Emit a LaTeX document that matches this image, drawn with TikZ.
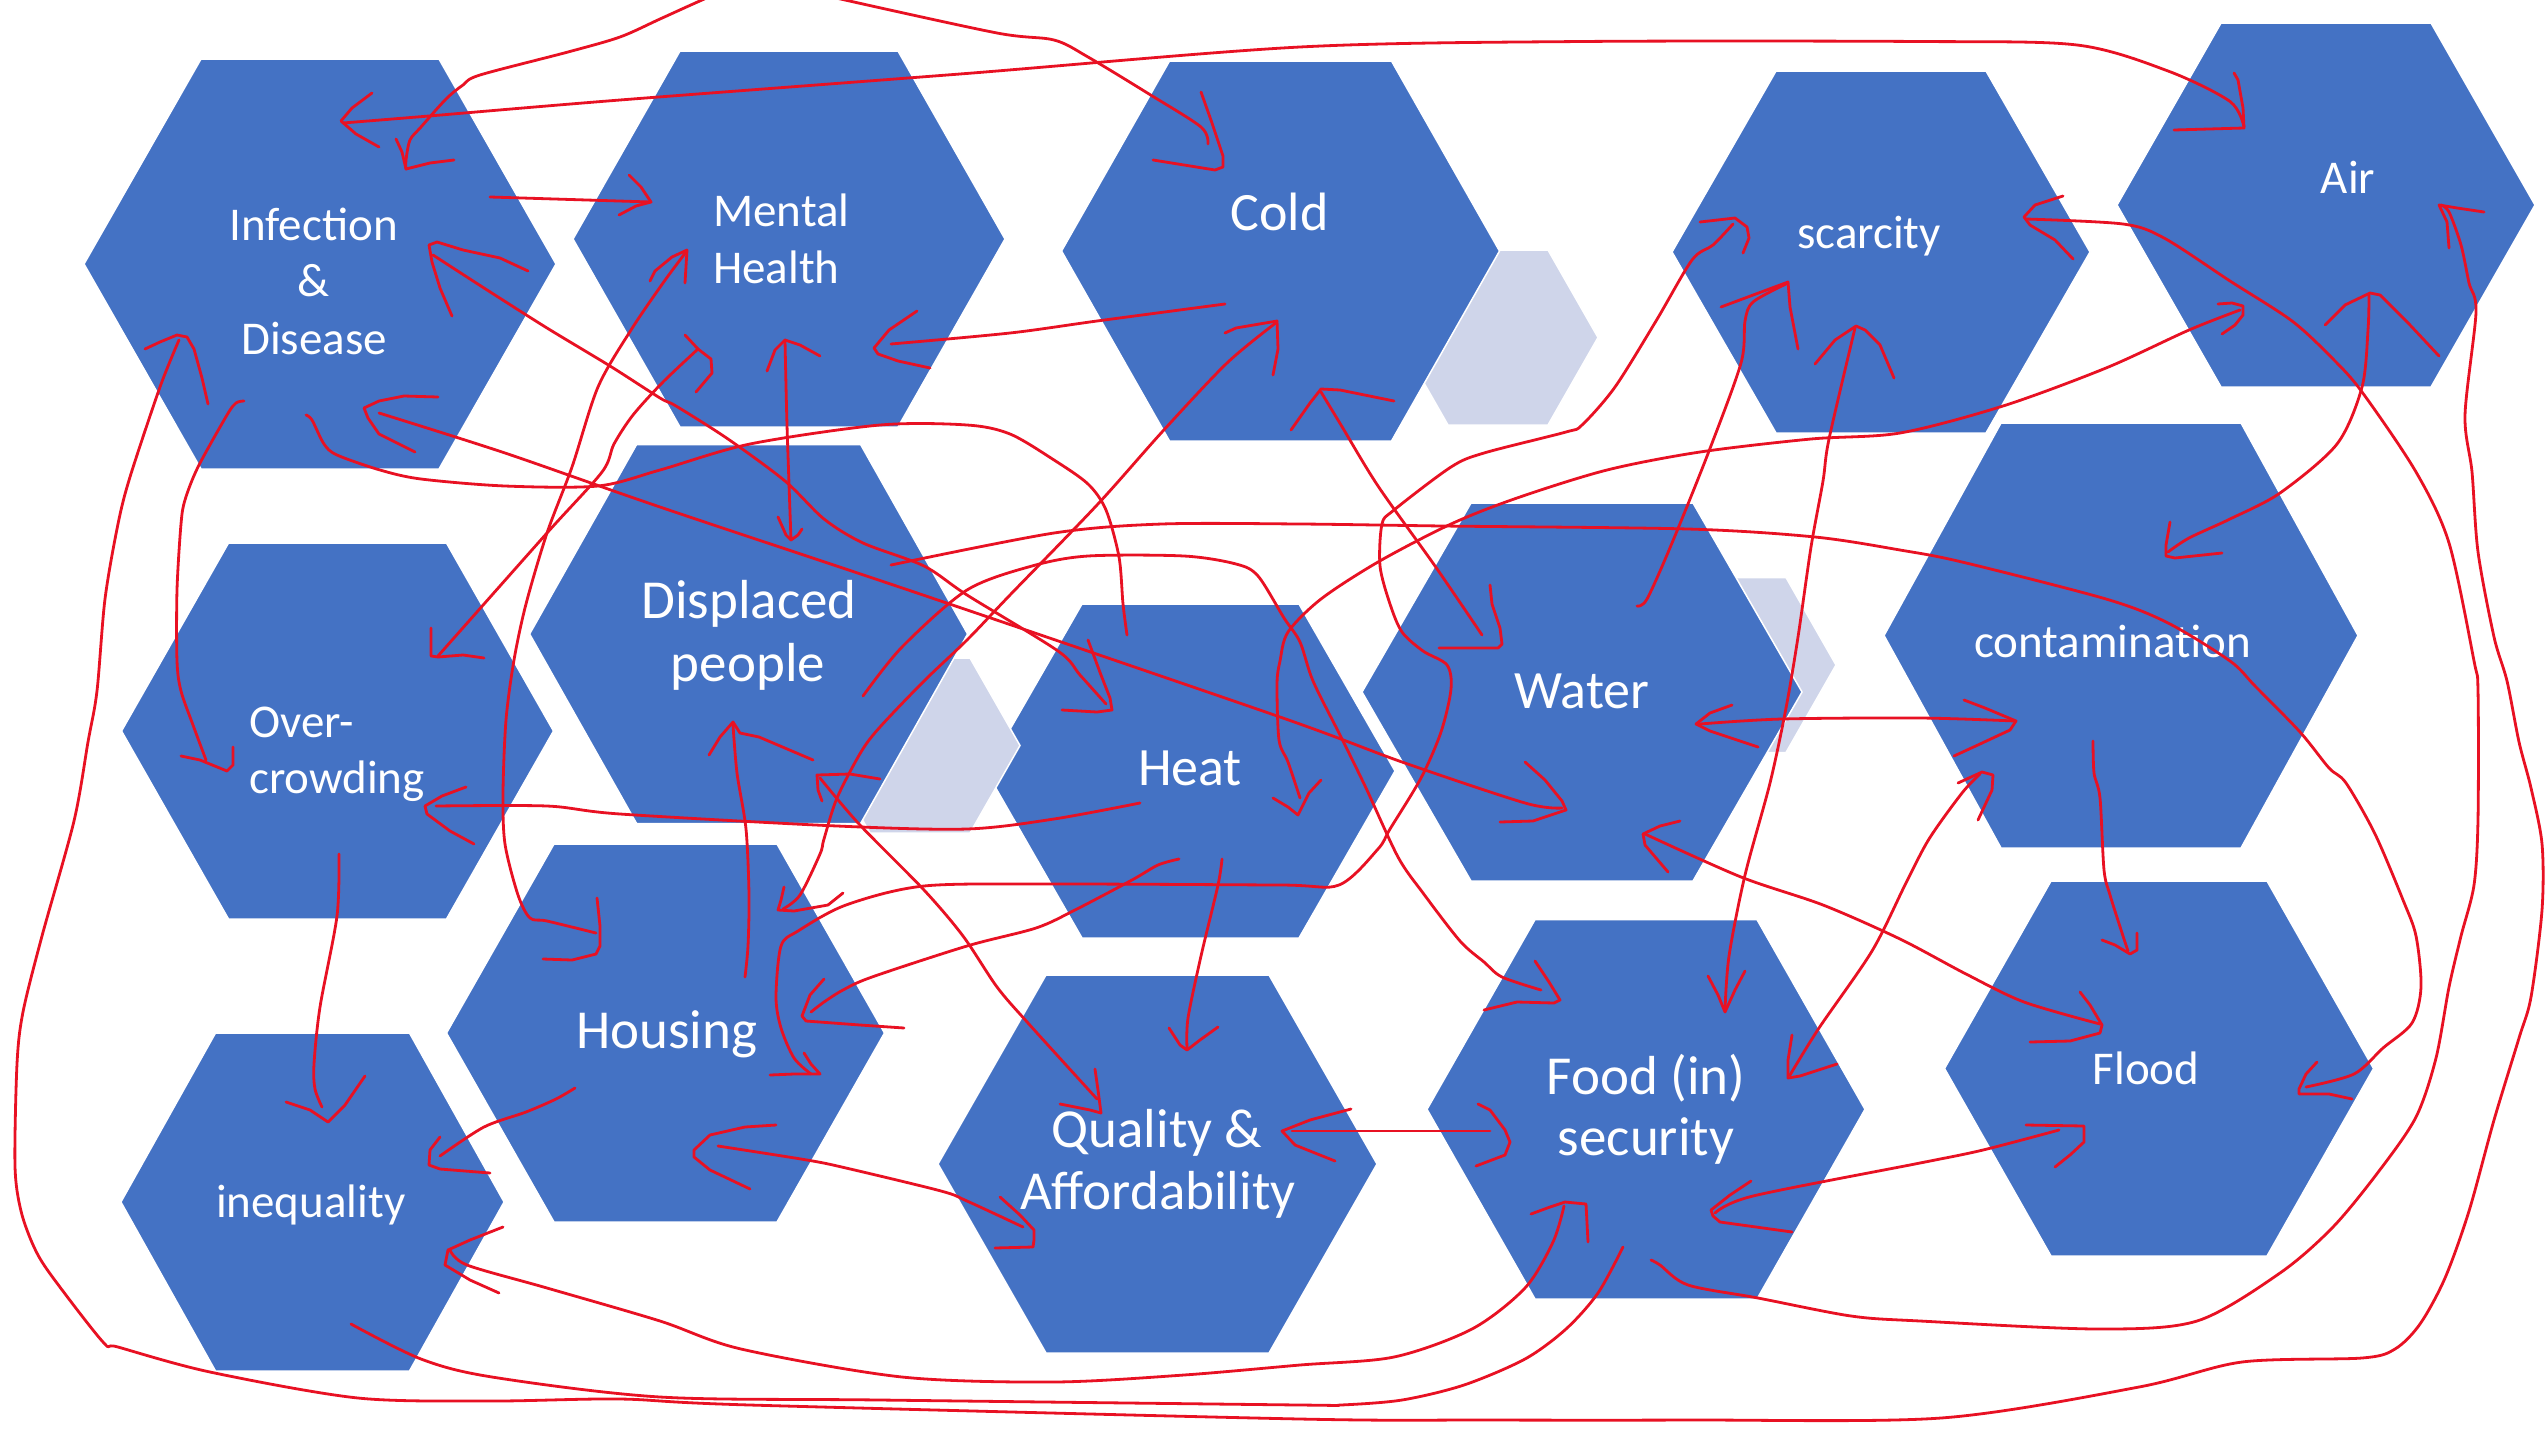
\documentclass[tikz,border=0pt]{standalone}
\usepackage{fontspec}
\setmainfont{Carlito}
\definecolor{hexblue}{RGB}{68,114,196}
\definecolor{hexgray}{RGB}{207,213,234}
\definecolor{inkred}{RGB}{232,17,35}
\newcommand{\labsm}{\fontsize{47}{56}\selectfont}
\newcommand{\labmd}{\fontsize{54}{64}\selectfont}
\newcommand{\lablg}{\fontsize{55}{66}\selectfont}
% hexagon with flat top: #1 style, #2 cx, #3 cy, #4 half width, #5 half top edge, #6 half height
\newcommand{\hexshape}[6]{%
  \filldraw[#1] ({#2-#4},#3) -- ({#2-#5},{#3-#6}) -- ({#2+#5},{#3-#6}) -- ({#2+#4},#3)
    -- ({#2+#5},{#3+#6}) -- ({#2-#5},{#3+#6}) -- cycle;}
\tikzset{
  ink/.style={draw=inkred, line width=2.8, line cap=round, line join=round},
  hexcell/.style={fill=hexblue, draw=white, line width=1.5},
  hexghost/.style={fill=hexgray, draw=white, line width=1.5},
  lbl/.style={text=white, inner sep=0pt, anchor=base},
  lblw/.style={text=white, inner sep=0pt, anchor=base west},
}
\begin{document}
\begin{tikzpicture}[x=1pt,y=-1pt]
\clip (0,0) rectangle (2547,1440);
\fill[white] (0,0) rectangle (2547,1440);

% ---- hexagons ----
\hexshape{hexcell}{320}{264}{236}{119}{205}
\hexshape{hexcell}{789}{239}{216}{109}{188}
\hexshape{hexghost}{1498}{337.5}{100}{50}{87.5}
\hexshape{hexcell}{1280.5}{251}{219}{111}{190}
\hexshape{hexcell}{1881}{252}{209}{105}{181}
\hexshape{hexcell}{2326}{205}{209}{105}{182}
\hexshape{hexcell}{2121}{635.5}{237}{120}{212.5}
\hexshape{hexcell}{337.5}{731}{216}{109}{188}
\hexshape{hexcell}{1190.5}{771}{204.5}{108.5}{167}
\hexshape{hexghost}{920}{745.5}{100}{50}{87.5}
\hexshape{hexcell}{748.6}{634}{219}{112}{189.5}
\hexshape{hexghost}{1736}{665}{100}{50}{87.5}
\hexshape{hexcell}{1582}{692}{220}{111}{189}
\hexshape{hexcell}{665.5}{1033}{219}{111.5}{189}
\hexshape{hexcell}{1157.5}{1164}{219.5}{111.5}{189}
\hexshape{hexcell}{1646}{1109.3}{219}{111}{189.7}
\hexshape{hexcell}{2159}{1068.5}{214.5}{108}{187.5}
\hexshape{hexcell}{312.5}{1202}{191.6}{97}{169}

% ---- labels ----
\node[lbl, font=\labsm] (infA) at (313.5,240.7) {Infection};
\node[lbl, font=\labsm] (infB) at (313.5,296) {\&};
\node[lbl, font=\labsm] (infC) at (314,354) {Disease};
\node[lblw, font=\labsm] (menA) at (713,226.5) {Mental};
\node[lblw, font=\labsm] (menB) at (713,283) {Health};
\node[lbl, font=\labmd] (cold) at (1279.7,230) {Cold};
\node[lbl, font=\labsm] (scar) at (1869,248) {scarcity};
\node[lbl, font=\labsm] (air) at (2348,193.5) {Air};
\node[lbl, font=\labsm] (cont) at (2112.5,657) {contamination};
\node[lblw, font=\labsm] (ovA) at (249,737) {Over-};
\node[lblw, font=\labsm] (ovB) at (249,793) {crowding};
\node[lbl, font=\lablg] (disA) at (749,618) {Displaced};
\node[lbl, font=\lablg] (disB) at (748,681) {people};
\node[lbl, font=\labmd] (heat) at (1190,785.4) {Heat};
\node[lbl, font=\labmd] (water) at (1582,708) {Water};
\node[lbl, font=\lablg] (hous) at (666.6,1048) {Housing};
\node[lbl, font=\lablg] (quaA) at (1157,1147.6) {Quality \&};
\node[lbl, font=\lablg] (quaB) at (1157.8,1209) {Affordability};
\node[lbl, font=\lablg] (foodA) at (1646,1094) {Food (in)};
\node[lbl, font=\lablg] (foodB) at (1646,1155) {security};
\node[lbl, font=\labsm] (flood) at (2146,1084) {Flood};
\node[lbl, font=\labsm] (ineq) at (310.8,1217.5) {inequality};

% ---- hand-drawn links ----
% Infection <-> Air, across the top
\draw[ink] plot[smooth] coordinates {(343,123) (429,116) (620,100) (960,74) (1300,47) (1582,41.5) (1920,41.5) (2077,45) (2168,71) (2230,101.5) (2244,127)};
\draw[ink] (372,93) -- (352,108) -- (341,121) -- (356,134) -- (379,147);
\draw[ink] (2234,73) -- (2238,80) -- (2243,108) -- (2244,128) -- (2174,130);
% from above into Infection
\draw[ink] plot[smooth] coordinates {(760,-25) (702,0) (660,19) (620,37) (568,52) (480,75) (463,85) (446,99) (421,127) (410,140) (406,160) (406,169)};
\draw[ink] (396,139) -- (402,152) -- (406,169) -- (430,163) -- (454,160);
% from above into Cold
\draw[ink] plot[smooth] coordinates {(760,-20) (845,0) (997,33) (1054,40) (1088,57) (1149,94) (1201,127) (1208,144)};
\draw[ink] (1201,92) -- (1212,123) -- (1223,156) -- (1223,167) -- (1215,170) -- (1153,160);
% Infection -> Mental Health
\draw[ink] (490,197) -- (651,202);
\draw[ink] (629,175) -- (641,187) -- (651,202) -- (636,206) -- (619,215);
% Infection <-> Heat
\draw[ink] plot[smooth] coordinates {(433,255) (484,288) (547,328) (610,366) (660,398) (676,406) (728,439) (785,481) (824,519) (863,543) (924,566) (967,595) (1058,651) (1080,675) (1106,704)};
\draw[ink] (528,271) -- (500,258) -- (463,250) -- (437,242) -- (429,245) -- (432,262) -- (440,288) -- (452,316);
\draw[ink] (1088,640) -- (1101,675) -- (1110,698) -- (1112,710) -- (1097,712) -- (1062,710);
% Infection <-> Water
\draw[ink] plot[smooth] coordinates {(379,413) (505,453) (660,507) (923,595) (1280,717) (1402,762) (1525,803) (1562,808)};
\draw[ink] (438,397) -- (404,396) -- (379,401) -- (364,408) -- (368,418) -- (379,434) -- (415,452);
\draw[ink] (1525,762) -- (1545,780) -- (1562,801) -- (1566,810) -- (1533,821) -- (1500,822);
% Infection to Heat, open ends
\draw[ink] plot[smooth] coordinates {(306,415) (312,420) (324,444) (337,455) (380,470) (421,479) (505,486) (598,486) (660,470) (750,444) (880,425) (967,425) (1010,434) (1054,460) (1088,484) (1106,510) (1119,557) (1123,604) (1127,635)};
% Infection -> Over-crowding
\draw[ink] plot[smooth] coordinates {(244,401) (236,403) (227,415) (198,467) (185,500) (181,524) (177,590) (177,661) (181,691) (193,725) (206,760)};
\draw[ink] (181,756) -- (200,760) -- (227,771) -- (233,765) -- (233,747);
% Infection <-> Air, round the outside
\draw[ink] plot[smooth] coordinates {(179,340) (160,387) (130,477) (118,524) (105,599) (97,691) (88,742) (74,821) (42,936) (23,1012) (17,1064) (15,1166) (21,1211) (34,1247) (51,1275) (103,1342) (118,1347) (210,1372) (358,1398) (492,1401) (620,1399) (750,1405) (1300,1419) (1484,1420) (1688,1420) (1941,1418) (2139,1387) (2242,1362) (2362,1358) (2395,1349) (2420,1324) (2445,1278) (2469,1211) (2494,1120) (2519,1038) (2531,997) (2542,910) (2542,844) (2531,788) (2519,742) (2507,681) (2494,637) (2478,552) (2472,472) (2465,415) (2476,312) (2469,283) (2461,245) (2449,212) (2441,205)};
\draw[ink] (145,349) -- (160,342) -- (177,335) -- (187,337) -- (194,349) -- (202,378) -- (208,404);
\draw[ink] (2449,248) -- (2447,222) -- (2439,205) -- (2457,208) -- (2484,212);
% Mental Health <-> Over-crowding
\draw[ink] plot[smooth] coordinates {(698,349) (663,382) (633,415) (614,444) (602,472) (547,533) (438,656)};
\draw[ink] (685,335) -- (698,349) -- (711,359) -- (712,373) -- (696,392);
\draw[ink] (431,628) -- (431,656) -- (438,657) -- (463,655) -- (484,658);
% Mental Health <-> Housing
\draw[ink] plot[smooth] coordinates {(686,252) (663,283) (631,330) (598,387) (572,467) (547,533) (526,604) (514,660) (506,720) (503,793) (505,844) (518,895) (530,918) (547,921) (596,933)};
\draw[ink] (650,281) -- (655,271) -- (672,257) -- (687,250) -- (685,283);
\draw[ink] (597,898) -- (600,926) -- (600,946) -- (596,954) -- (572,960) -- (543,959);
% Mental Health <-> Displaced people
\draw[ink] plot[smooth] coordinates {(785,340) (787,425) (791,540)};
\draw[ink] (767,371) -- (775,350) -- (785,340) -- (800,345) -- (820,356);
\draw[ink] (778,517) -- (786,535) -- (791,540) -- (798,535) -- (802,529);
% Cold -> Mental Health
\draw[ink] plot[smooth] coordinates {(1225,304) (1097,321) (1010,333) (891,344)};
\draw[ink] (917,311) -- (889,330) -- (874,348) -- (878,354) -- (898,361) -- (930,368);
% Cold <-> Housing
\draw[ink] plot[smooth] coordinates {(1277,322) (1227,363) (1162,432) (1097,505) (1010,595) (967,640) (924,681) (880,727) (861,752) (837,798) (824,839) (820,854) (800,895) (783,909)};
\draw[ink] (1225,333) -- (1236,328) -- (1277,321) -- (1278,349) -- (1273,375);
\draw[ink] (784,887) -- (781,900) -- (778,910) -- (794,911) -- (828,905) -- (843,893);
% Heat -> Over-crowding
\draw[ink] plot[smooth] coordinates {(1140,803) (1054,819) (967,829) (837,826) (620,814) (547,806) (436,806)};
\draw[ink] (466,787) -- (442,796) -- (425,806) -- (427,814) -- (450,831) -- (474,844);
% Heat -> Quality
\draw[ink] plot[smooth] coordinates {(1222,859) (1218,885) (1201,956) (1188,1018) (1187,1048)};
\draw[ink] (1169,1028) -- (1180,1045) -- (1187,1050) -- (1200,1040) -- (1218,1027);
% Heat -> Housing
\draw[ink] plot[smooth] coordinates {(1179,859) (1158,865) (1132,880) (1075,910) (1036,928) (967,946) (872,977) (843,990) (824,1002) (811,1012)};
\draw[ink] (824,979) -- (810,995) -- (802,1016) -- (806,1021) -- (860,1025) -- (904,1028);
% scarcity <-> Housing
\draw[ink] plot[smooth] coordinates {(1733,224) (1713,245) (1692,260) (1656,321) (1615,387) (1582,425) (1566,432) (1484,453) (1451,467) (1394,510) (1382,524) (1380,566) (1390,604) (1402,632) (1423,651) (1447,665) (1451,689) (1441,732) (1421,778) (1390,829) (1378,849) (1339,885) (1280,885) (1054,884) (924,886) (846,905) (798,931) (781,946) (776,997) (781,1028) (794,1058) (811,1074)};
\draw[ink] (1700,222) -- (1735,218) -- (1747,227) -- (1749,238) -- (1743,253);
\draw[ink] (804,1053) -- (811,1064) -- (820,1074) -- (794,1074) -- (770,1075);
% Displaced people -> Food
\draw[ink] plot[smooth] coordinates {(863,696) (902,647) (967,590) (1032,566) (1088,556) (1184,556) (1236,564) (1258,576) (1284,618) (1300,642) (1313,681) (1341,737) (1366,788) (1398,857) (1423,893) (1460,941) (1484,962) (1502,977) (1541,990)};
\draw[ink] (1535,961) -- (1549,982) -- (1560,1000) -- (1554,1003) -- (1517,1002) -- (1484,1010);
% Cold <-> Water
\draw[ink] plot[smooth] coordinates {(1321,392) (1341,425) (1378,486) (1435,566) (1482,635)};
\draw[ink] (1291,430) -- (1310,403) -- (1321,389) -- (1340,390) -- (1394,401);
\draw[ink] (1490,585) -- (1492,604) -- (1500,628) -- (1502,644) -- (1498,648) -- (1439,648);
% Water -> scarcity
\draw[ink] plot[smooth] coordinates {(1637,606) (1647,599) (1672,543) (1709,451) (1741,363) (1745,321) (1753,302) (1786,284)};
\draw[ink] (1721,307) -- (1788,282) -- (1790,307) -- (1798,349);
% scarcity <-> Food
\draw[ink] plot[smooth] coordinates {(1855,328) (1829,439) (1823,481) (1811,547) (1798,637) (1786,708) (1770,783) (1745,875) (1729,956) (1725,1010)};
\draw[ink] (1815,364) -- (1835,340) -- (1856,326) -- (1865,330) -- (1880,345) -- (1894,378);
\draw[ink] (1708,976) -- (1718,995) -- (1725,1012) -- (1735,990) -- (1745,971);
% Air <-> Heat
\draw[ink] plot[smooth] coordinates {(2240,310) (2189,330) (2106,368) (2003,406) (1900,433) (1811,439) (1700,452) (1607,470) (1517,498) (1451,524) (1378,562) (1321,599) (1288,632) (1280,661) (1277,684) (1279,740) (1288,762) (1300,798)};
\draw[ink] (2218,304) -- (2232,303) -- (2243,306) -- (2243,315) -- (2235,325) -- (2222,334);
\draw[ink] (1321,780) -- (1309,793) -- (1298,815) -- (1288,807) -- (1273,798);
% Air <-> contamination
\draw[ink] plot[smooth] coordinates {(2369,295) (2368,330) (2362,387) (2337,444) (2280,493) (2230,519) (2189,538) (2168,552)};
\draw[ink] (2325,325) -- (2345,305) -- (2370,293) -- (2380,295) -- (2410,325) -- (2439,356);
\draw[ink] (2170,522) -- (2166,545) -- (2166,556) -- (2175,558) -- (2222,553);
% scarcity <-> Food, round the right side
\draw[ink] plot[smooth] coordinates {(2026,219) (2123,224) (2164,238) (2230,281) (2292,321) (2333,359) (2362,392) (2416,472) (2449,543) (2474,661) (2478,691) (2478,819) (2474,885) (2461,936) (2449,987) (2436,1058) (2416,1117) (2379,1171) (2333,1227) (2280,1273) (2197,1321) (2098,1329) (1920,1321) (1851,1316) (1758,1298) (1688,1285) (1660,1265) (1651,1260)};
\draw[ink] (2063,196) -- (2035,205) -- (2024,217) -- (2030,225) -- (2055,240) -- (2073,259);
% Displaced people -> Flood
\draw[ink] plot[smooth] coordinates {(891,565) (1054,533) (1162,524) (1300,524) (1443,526) (1688,529) (1815,537) (1900,550) (1962,562) (2106,599) (2168,623) (2230,661) (2255,686) (2300,732) (2329,768) (2346,783) (2375,834) (2403,900) (2416,936) (2421,987) (2412,1023) (2383,1048) (2354,1074) (2306,1087)};
\draw[ink] (2317,1062) -- (2306,1074) -- (2299,1089) -- (2299,1094) -- (2329,1094) -- (2352,1099);
% Water <-> contamination
\draw[ink] plot[smooth] coordinates {(1700,724) (1782,719) (1920,718) (2015,721)};
\draw[ink] (1732,705) -- (1710,713) -- (1696,724) -- (1710,731) -- (1758,747);
\draw[ink] (1964,700) -- (1985,708) -- (2016,721) -- (2010,730) -- (1980,744) -- (1954,756);
% Water <-> Flood
\draw[ink] plot[smooth] coordinates {(1645,834) (1741,877) (1823,905) (1900,939) (1966,974) (2024,1002) (2100,1024)};
\draw[ink] (1680,821) -- (1660,826) -- (1643,834) -- (1645,845) -- (1668,872);
\draw[ink] (2080,992) -- (2090,1005) -- (2102,1025) -- (2100,1033) -- (2070,1041) -- (2030,1042);
% contamination <-> Food
\draw[ink] plot[smooth] coordinates {(1790,1075) (1819,1028) (1872,951) (1905,885) (1929,839) (1962,793) (1980,774)};
\draw[ink] (1792,1035) -- (1788,1060) -- (1788,1078) -- (1800,1076) -- (1837,1064);
\draw[ink] (1958,783) -- (1982,772) -- (1993,775) -- (1992,790) -- (1978,820);
% contamination -> Flood
\draw[ink] plot[smooth] coordinates {(2093,741) (2094,773) (2100,798) (2104,870) (2110,895) (2123,936) (2128,951)};
\draw[ink] (2102,940) -- (2115,945) -- (2130,954) -- (2137,950) -- (2137,933);
% Food <-> Flood
\draw[ink] plot[smooth] coordinates {(1715,1213) (1753,1196) (1920,1163) (1983,1150) (2059,1130)};
\draw[ink] (1751,1181) -- (1730,1195) -- (1711,1210) -- (1713,1216) -- (1720,1222) -- (1792,1232);
\draw[ink] (2026,1125) -- (2084,1126) -- (2084,1142) -- (2070,1155) -- (2055,1167);
% Quality <-> Food
\draw[ink] (1292,1131) -- (1490,1131);
\draw[ink] (1351,1109) -- (1310,1120) -- (1282,1131) -- (1295,1145) -- (1335,1161);
\draw[ink] (1478,1104) -- (1490,1110) -- (1505,1130) -- (1510,1142) -- (1505,1155) -- (1476,1166);
% Housing <-> Quality
\draw[ink] plot[smooth] coordinates {(718,1146) (807,1160) (846,1168) (941,1191) (967,1201) (1023,1227)};
\draw[ink] (776,1125) -- (745,1127) -- (710,1135) -- (694,1150) -- (694,1157) -- (710,1170) -- (750,1189);
\draw[ink] (1000,1197) -- (1020,1215) -- (1034,1230) -- (1034,1240) -- (1033,1247) -- (995,1248);
% Housing -> Displaced people
\draw[ink] plot[smooth] coordinates {(745,977) (748,946) (749,895) (746,829) (737,773) (733,725)};
\draw[ink] (709,755) -- (720,737) -- (733,722) -- (740,733) -- (759,737) -- (813,760);
% Displaced people <-> Quality
\draw[ink] plot[smooth] coordinates {(820,778) (859,824) (924,890) (963,936) (997,987) (1028,1023) (1097,1099)};
\draw[ink] (880,779) -- (850,774) -- (817,775) -- (818,790) -- (822,801);
\draw[ink] (1095,1069) -- (1098,1090) -- (1101,1113) -- (1090,1110) -- (1060,1104);
% Over-crowding -> inequality
\draw[ink] plot[smooth] coordinates {(339,854) (337,916) (320,1007) (314,1064) (315,1089) (322,1107)};
\draw[ink] (286,1102) -- (310,1110) -- (328,1122) -- (345,1105) -- (365,1076);
% Housing -> inequality
\draw[ink] plot[smooth] coordinates {(575,1088) (556,1099) (526,1112) (484,1127) (440,1156)};
\draw[ink] (440,1137) -- (430,1150) -- (429,1165) -- (440,1169) -- (490,1173);
% inequality <-> Food
\draw[ink] plot[smooth] coordinates {(450,1250) (467,1265) (547,1288) (660,1321) (741,1349) (902,1377) (1054,1382) (1184,1375) (1300,1365) (1394,1357) (1472,1329) (1525,1288) (1553,1242) (1564,1206)};
\draw[ink] (503,1227) -- (470,1240) -- (448,1250) -- (445,1265) -- (470,1280) -- (499,1293);
\draw[ink] (1531,1214) -- (1550,1207) -- (1565,1202) -- (1586,1204) -- (1588,1242);
% inequality to Food, open ends
\draw[ink] plot[smooth] coordinates {(351,1324) (421,1359) (492,1377) (660,1397) (880,1400) (1300,1405) (1341,1405) (1402,1400) (1464,1385) (1525,1359) (1566,1329) (1598,1293) (1623,1247)};
\end{tikzpicture}
\end{document}
